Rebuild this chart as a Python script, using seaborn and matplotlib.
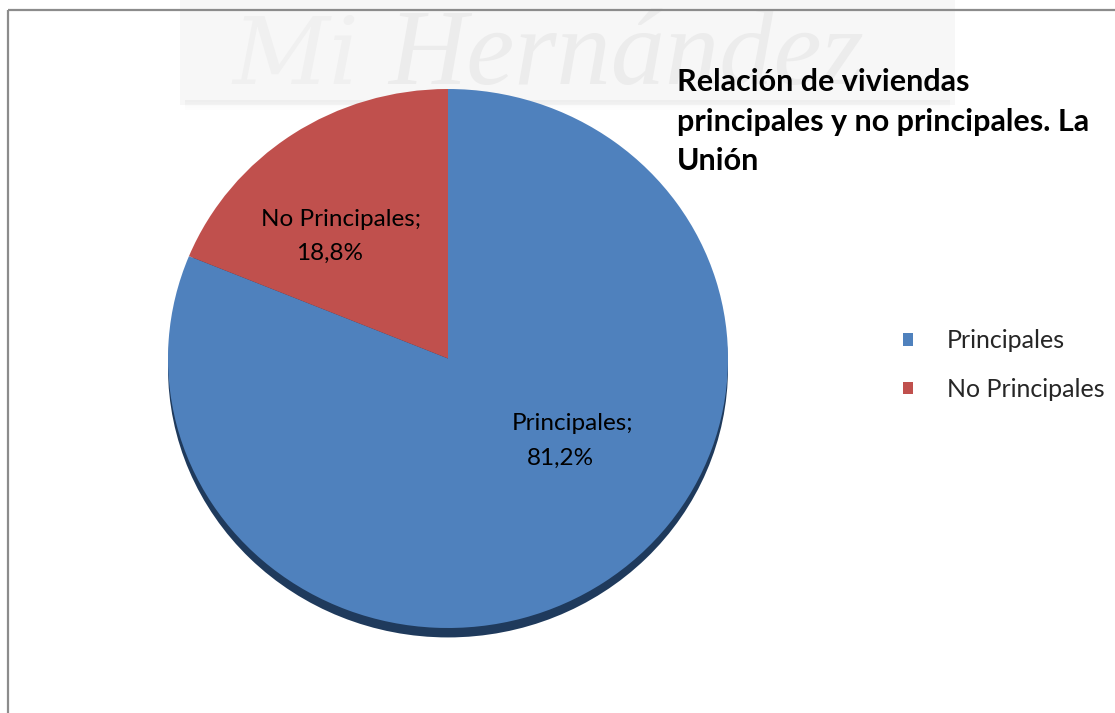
import matplotlib
matplotlib.use("Agg")
import matplotlib.pyplot as plt
from matplotlib.patches import Patch, Ellipse, Rectangle
import seaborn as sns

# Data
categories = ["Principales", "No Principales"]
shares = [81.2, 18.8]
slice_colors = ["#4f81bd", "#c0504d"]
title = "Relación de viviendas\nprincipales y no principales. La\nUnión"

sns.set_theme(style="white")
plt.rcParams["font.family"] = ["Lato", "DejaVu Sans"]

W, H = 1115, 713
fig = plt.figure(figsize=(W / 100, H / 100), dpi=100)
fig.patch.set_facecolor("white")

# Background canvas in pixel units: frame and watermark
bg = fig.add_axes([0, 0, 1, 1])
bg.set_xlim(0, W)
bg.set_ylim(H, 0)
bg.axis("off")

bg.add_patch(Rectangle((180, -5), 775, 110, facecolor="#f7f7f7", edgecolor="none", zorder=0))
for i, a in enumerate([0.035, 0.028, 0.02, 0.013, 0.007]):
    bg.add_patch(Rectangle((185, 100 + i * 2), 765, 2, facecolor="black", alpha=a,
                           edgecolor="none", zorder=0))
bg.text(232, 58, "Mi", fontsize=68, family="DejaVu Serif", style="italic",
        color="#f0f0f0", va="center", ha="left", zorder=0.5)
bg.text(388, 58, "Hernández", fontsize=78, family="Liberation Serif", style="italic",
        color="#ececec", va="center", ha="left", zorder=0.5)

bg.plot([7.5, W], [9.5, 9.5], color="#8c8c8c", lw=1.6, zorder=1, solid_capstyle="butt")
bg.plot([7.5, 7.5], [9.5, H], color="#8c8c8c", lw=1.6, zorder=1, solid_capstyle="butt")

# Pie axes; unequal aspect gives the slight elliptical look
pax = fig.add_axes([168 / W, (H - 628) / H, 560 / W, 539 / H])
shadow = Ellipse((0, -0.035), 2.0, 2.0, facecolor="#1f3a5c", edgecolor="none", zorder=0)
shadow.set_clip_on(False)
pax.add_patch(shadow)
wedges, _ = pax.pie(shares, colors=slice_colors, startangle=90, counterclock=False,
                    radius=1, wedgeprops=dict(linewidth=0))
for w in wedges:
    w.set_zorder(1)
pax.set_aspect("auto")
pax.set_xlim(-1, 1)
pax.set_ylim(-1, 1)
pax.axis("off")

# Foreground canvas for labels and title
fg = fig.add_axes([0, 0, 1, 1])
fg.set_xlim(0, W)
fg.set_ylim(H, 0)
fg.axis("off")
fg.patch.set_alpha(0)

def fmt(v):
    return f"{v:.1f}%".replace(".", ",")

label_pos = {"Principales": ((572, 423), (560, 458)),
             "No Principales": ((341, 220), (330, 253))}
for cat, val in zip(categories, shares):
    (x1, y1), (x2, y2) = label_pos[cat]
    fg.text(x1, y1, f"{cat};", fontsize=17.5, color="black", ha="center", va="center")
    fg.text(x2, y2, fmt(val), fontsize=17.5, color="black", ha="center", va="center")

fg.text(677, 68, title, fontsize=22, fontweight="bold", color="black",
        ha="left", va="top", linespacing=1.5)

# Legend
handles = [Patch(facecolor=c, edgecolor="none", label=l) for c, l in zip(slice_colors, categories)]
fig.legend(handles=handles, loc="center left", bbox_to_anchor=(903 / W, 1 - 365 / H),
           frameon=False, fontsize=18, handlelength=0.4, handleheight=0.4,
           handletextpad=1.36, labelspacing=1.03, borderpad=0, borderaxespad=0)

fig.savefig("out.png", dpi=100, facecolor="white")
